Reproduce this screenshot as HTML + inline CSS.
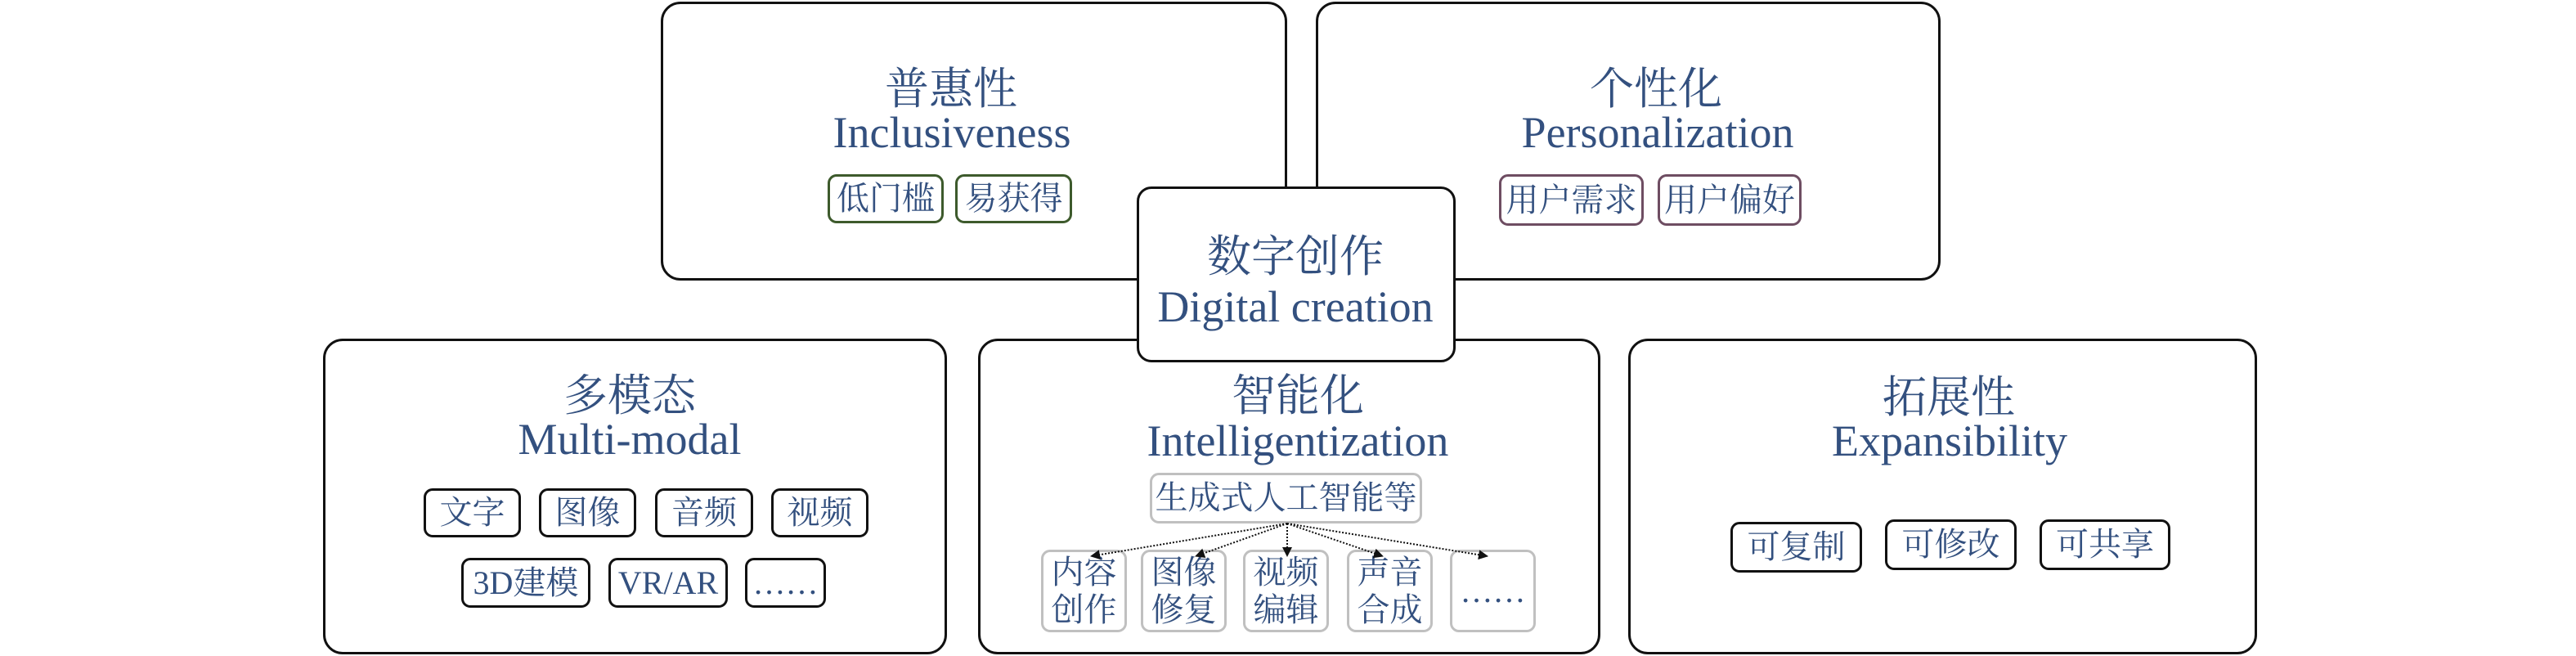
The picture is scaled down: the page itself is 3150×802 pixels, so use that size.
<!DOCTYPE html>
<html><head><meta charset="utf-8"><style>
html,body{margin:0;padding:0;background:#fff;}
body{width:3150px;height:802px;position:relative;overflow:hidden;font-family:"Liberation Serif","Noto Serif CJK SC",serif;color:#33507f;}
.box{position:absolute;border:3px solid #111;border-radius:24px;background:#fff;box-sizing:border-box;}
.t{position:absolute;white-space:nowrap;text-align:center;line-height:1;font-size:54px;transform:translateX(-50%);}
.c{position:absolute;box-sizing:border-box;border:3px solid #111;border-radius:11px;display:flex;align-items:center;justify-content:center;font-size:40px;line-height:1.15;text-align:center;background:#fff;white-space:nowrap;}
.g{border-color:#3d5a2c;}
.p{border-color:#6e4d62;}
.l{border-color:#c0c0c0;}
</style></head><body>

<div class="box" style="left:808px;top:2px;width:766px;height:341px;"></div>
<div class="t" style="left:1163px;top:82px;">普惠性</div>
<div class="t" style="left:1164px;top:135px;">Inclusiveness</div>
<div class="c g" style="left:1012px;top:213px;width:142px;height:60px;">低门槛</div>
<div class="c g" style="left:1168px;top:213px;width:143px;height:60px;">易获得</div>

<div class="box" style="left:1609px;top:2px;width:764px;height:341px;"></div>
<div class="t" style="left:2025px;top:82px;">个性化</div>
<div class="t" style="left:2027px;top:135px;">Personalization</div>
<div class="c p" style="left:1833px;top:213px;width:177px;height:63px;">用户需求</div>
<div class="c p" style="left:2027px;top:213px;width:176px;height:63px;">用户偏好</div>

<div class="box" style="left:395px;top:414px;width:763px;height:386px;"></div>
<div class="t" style="left:770px;top:457px;">多模态</div>
<div class="t" style="left:770px;top:510px;">Multi-modal</div>
<div class="c" style="left:518px;top:597px;width:119px;height:60px;">文字</div>
<div class="c" style="left:659px;top:597px;width:119px;height:60px;">图像</div>
<div class="c" style="left:801px;top:597px;width:120px;height:60px;">音频</div>
<div class="c" style="left:943px;top:597px;width:119px;height:60px;">视频</div>
<div class="c" style="left:564px;top:682px;width:158px;height:61px;">3D建模</div>
<div class="c" style="left:744px;top:682px;width:146px;height:61px;">VR/AR</div>
<div class="c" style="left:911px;top:682px;width:99px;height:61px;">……</div>

<div class="box" style="left:1196px;top:414px;width:761px;height:386px;"></div>
<div class="t" style="left:1587px;top:457px;">智能化</div>
<div class="t" style="left:1587px;top:512px;">Intelligentization</div>
<div class="c l" style="left:1406px;top:578px;width:333px;height:62px;">生成式人工智能等</div>
<div class="c l" style="left:1273px;top:672px;width:105px;height:101px;">内容<br>创作</div>
<div class="c l" style="left:1395px;top:672px;width:105px;height:101px;">图像<br>修复</div>
<div class="c l" style="left:1520px;top:672px;width:105px;height:101px;">视频<br>编辑</div>
<div class="c l" style="left:1647px;top:672px;width:105px;height:101px;">声音<br>合成</div>
<div class="c l" style="left:1773px;top:672px;width:105px;height:101px;">……</div>
<svg style="position:absolute;left:0;top:0" width="3150" height="802">
<defs><marker id="a" markerWidth="12" markerHeight="12" refX="11" refY="6" orient="auto" markerUnits="userSpaceOnUse" viewBox="0 0 12 12"><path d="M0,0 L12,6 L0,12 z" fill="#111"/></marker></defs>
<g stroke="#111" stroke-width="2" stroke-dasharray="2,2" fill="none">
<line x1="1574" y1="640" x2="1334" y2="680" marker-end="url(#a)"/>
<line x1="1574" y1="640" x2="1462" y2="680" marker-end="url(#a)"/>
<line x1="1574" y1="640" x2="1574" y2="680" marker-end="url(#a)"/>
<line x1="1574" y1="640" x2="1691" y2="680" marker-end="url(#a)"/>
<line x1="1574" y1="640" x2="1819" y2="680" marker-end="url(#a)"/>
</g></svg>

<div class="box" style="left:1991px;top:414px;width:769px;height:386px;"></div>
<div class="t" style="left:2383px;top:459px;">拓展性</div>
<div class="t" style="left:2384px;top:512px;">Expansibility</div>
<div class="c" style="left:2116px;top:638px;width:161px;height:62px;">可复制</div>
<div class="c" style="left:2305px;top:635px;width:161px;height:62px;">可修改</div>
<div class="c" style="left:2494px;top:635px;width:160px;height:62px;">可共享</div>

<div class="box" style="left:1390px;top:228px;width:390px;height:215px;border-radius:18px;"></div>
<div class="t" style="left:1584px;top:287px;">数字创作</div>
<div class="t" style="left:1584px;top:348px;">Digital creation</div>

</body></html>
